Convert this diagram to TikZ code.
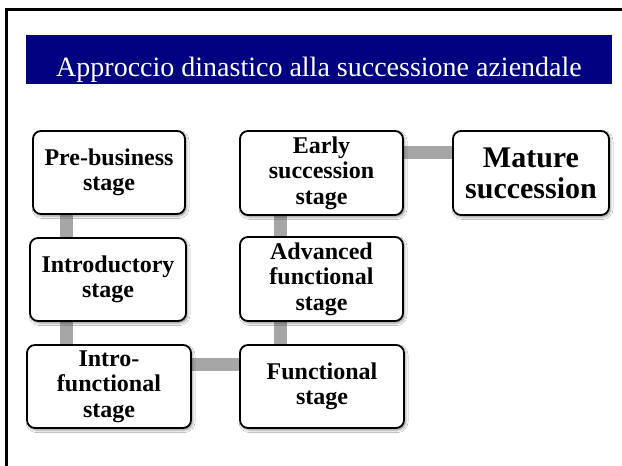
\documentclass[tikz,border=0pt]{standalone}
\usepackage{fontspec}
\setmainfont{Liberation Serif}
\usetikzlibrary{shadows.blur,backgrounds}
\definecolor{navy}{RGB}{0,0,128}
\definecolor{conngray}{RGB}{166,166,166}
\begin{document}
\begin{tikzpicture}[x=1pt,y=-1pt,
  stagebox/.style={draw=black, line width=1.8pt, rounded corners=8pt, fill=white,
    align=center, inner sep=0pt, font=\fontsize{24}{25.5}\selectfont\bfseries,
    blur shadow={shadow xshift=1.5pt, shadow yshift=-2pt, shadow blur radius=2.5pt, shadow opacity=45}},
  conn/.style={draw=conngray, line width=13pt}]
\useasboundingbox (0,0) rectangle (622,466);
\draw[line width=3pt] (6.5,466) -- (6.5,9.5) -- (622,9.5);
\node[fill=navy, minimum width=586pt, minimum height=49pt, inner sep=0pt] (title) at (319,59.5) {};
\node[anchor=base, text=white, inner sep=0pt, font=\fontsize{28}{30}\selectfont] (titletext) at (319,76) {Approccio dinastico alla successione aziendale};
\node[stagebox, minimum width=152pt, minimum height=83pt] (pre) at (109,172.5) {Pre-business\\stage};
\node[stagebox, minimum width=156pt, minimum height=83pt] (intro) at (108,279.5) {Introductory\\stage};
\node[stagebox, minimum width=164pt, minimum height=83pt] (introfun) at (109,386.5) {Intro-\\functional\\stage};
\node[stagebox, minimum width=164pt, minimum height=83pt] (fun) at (322,386.5) {Functional\\stage};
\node[stagebox, minimum width=163pt, minimum height=84pt] (adv) at (321.5,279) {Advanced\\functional\\stage};
\node[stagebox, minimum width=163pt, minimum height=84pt] (early) at (321.5,173) {Early\\succession\\stage};
\node[stagebox, minimum width=156pt, minimum height=84pt, font=\fontsize{30}{31}\selectfont\bfseries] (mature) at (531,173) {Mature\\succession};
\begin{scope}[on background layer]
\fill[white] (0,0) rectangle (622,466);
\draw[conn] (pre.south -| 66.5,0) -- (intro.north -| 66.5,0);
\draw[conn] (intro.south -| 66.5,0) -- (introfun.north -| 66.5,0);
\draw[conn] (introfun.east |- 0,364.5) -- (fun.west |- 0,364.5);
\draw[conn] (fun.north -| 280,0) -- (adv.south -| 280,0);
\draw[conn] (adv.north -| 280,0) -- (early.south -| 280,0);
\draw[conn] (early.east |- 0,152) -- (mature.west |- 0,152);
\end{scope}
\end{tikzpicture}
\end{document}
